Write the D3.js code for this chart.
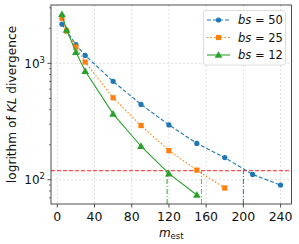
<!DOCTYPE html>
<html><head><meta charset="utf-8">
<script src="https://cdn.jsdelivr.net/npm/d3@7"></script>
<style>body{margin:0;background:#fff}svg{display:block;font-family:"DejaVu Sans",sans-serif}</style>
</head><body><svg id="c" width="299" height="244"></svg>
<script>
const xs50 = [5,10,20,30,60,90,120,150,180,210,240];
const ys50 = [2170,1900,1450,1170,700,444,296,205,155,111,90];
const xs25 = [5,10,20,30,60,90,120,150,180];
const ys25 = [2440,1900,1380,1026,506,292,178,121,85];
const xs12 = [5,10,20,30,60,90,120,150];
const ys12 = [2640,1940,1250,858,368,194,113,74];
const labels = ["50","25","12"];
const crossX = [200,155,118];
const threshold = 120;
const xTicks = [0,40,80,120,160,200,240];

const svg = d3.select("#c");
const L=51,R=291.5,T=5,B=204;
const x = d3.scaleLinear().domain([-6.75,251.75]).range([L,R]);
const y = d3.scaleLog().domain([61.9,3170]).range([B,T]);
const colors=["#1f77b4","#ff7f0e","#2ca02c"];
const dashes=["4,2","1.5,2",null];
const series=[{xs:xs50,ys:ys50},{xs:xs25,ys:ys25},{xs:xs12,ys:ys12}];

// grid
const g=svg.append("g");
xTicks.forEach(t=>g.append("line").attr("x1",x(t)).attr("x2",x(t)).attr("y1",T).attr("y2",B)
  .attr("stroke","#b0b0b0").attr("stroke-width",0.6).attr("stroke-dasharray","2,2").attr("opacity",0.7));
[100,1000].forEach(t=>g.append("line").attr("x1",L).attr("x2",R).attr("y1",y(t)).attr("y2",y(t))
  .attr("stroke","#b0b0b0").attr("stroke-width",0.6).attr("stroke-dasharray","2,2").attr("opacity",0.7));

// threshold
svg.append("line").attr("x1",L).attr("x2",R).attr("y1",y(threshold)).attr("y2",y(threshold))
  .attr("stroke","#ff0000").attr("stroke-opacity",0.7).attr("stroke-width",1.3).attr("stroke-dasharray","4,2");

// vertical crossing lines
crossX.forEach((cx,i)=>svg.append("line").attr("x1",x(cx)).attr("x2",x(cx)).attr("y1",B).attr("y2",y(threshold))
  .attr("stroke",colors[i]).attr("stroke-width",1).attr("stroke-dasharray","5,2,1,2"));

const line=d3.line().x(d=>x(d[0])).y(d=>y(d[1]));
function marker(sel,i,cx,cy){
  if(i===0) sel.append("circle").attr("cx",cx).attr("cy",cy).attr("r",2.6).attr("fill",colors[i]);
  else if(i===1) sel.append("rect").attr("x",cx-2.6).attr("y",cy-2.6).attr("width",5.2).attr("height",5.2).attr("fill",colors[i]);
  else sel.append("path").attr("d",d3.symbol(d3.symbolTriangle,26)()).attr("transform",`translate(${cx},${cy+0.6})`).attr("fill",colors[i]);
}
series.forEach((s,i)=>{
  const pts=s.xs.map((v,j)=>[v,s.ys[j]]);
  svg.append("path").datum(pts).attr("d",line).attr("fill","none").attr("stroke",colors[i])
    .attr("stroke-width",1.1).attr("stroke-dasharray",dashes[i]);
  pts.forEach(p=>marker(svg,i,x(p[0]),y(p[1])));
});

// axes frame
svg.append("rect").attr("x",L).attr("y",T).attr("width",R-L).attr("height",B-T).attr("fill","none").attr("stroke","#222").attr("stroke-width",0.8);

// x ticks
xTicks.forEach(t=>{
  svg.append("line").attr("x1",x(t)).attr("x2",x(t)).attr("y1",B).attr("y2",B+3.5).attr("stroke","#222").attr("stroke-width",0.8);
  svg.append("text").attr("x",x(t)).attr("y",B+16.5).attr("text-anchor","middle").attr("font-size",12.5).attr("fill","#111").text(t);
});
// y ticks major
[100,1000].forEach((t,k)=>{
  svg.append("line").attr("x1",L).attr("x2",L-3.5).attr("y1",y(t)).attr("y2",y(t)).attr("stroke","#222").attr("stroke-width",0.8);
  const tx=svg.append("text").attr("x",L-6).attr("y",y(t)+4.5).attr("text-anchor","end").attr("font-size",12).attr("fill","#111");
  tx.append("tspan").text("10");
  tx.append("tspan").attr("dy",-5).attr("font-size",8.5).text(k===0?"2":"3");
});
// minor
const minors=[];
[10,100,1000].forEach(d=>{for(let m=2;m<=9;m++){const v=m*d;if(v>=61.9&&v<=3170)minors.push(v);}});
minors.forEach(v=>svg.append("line").attr("x1",L).attr("x2",L-2).attr("y1",y(v)).attr("y2",y(v)).attr("stroke","#222").attr("stroke-width",0.6));

// axis labels
const yl=svg.append("text").attr("transform",`translate(16,${(T+B)/2}) rotate(-90)`).attr("text-anchor","middle").attr("font-size",12.2).attr("fill","#111");
yl.append("tspan").text("logrithm of ");
yl.append("tspan").attr("font-style","italic").text("KL");
yl.append("tspan").text(" divergence");
const xl=svg.append("text").attr("x",(L+R)/2).attr("y",236.5).attr("text-anchor","middle").attr("font-size",12).attr("fill","#111");
xl.append("tspan").attr("font-style","italic").text("m");
xl.append("tspan").attr("dy",2).attr("font-size",8.5).text("est");

// legend
const lg=svg.append("g");
lg.append("rect").attr("x",203.5).attr("y",10.5).attr("width",82).attr("height",54.5).attr("rx",2.5)
  .attr("fill","#fff").attr("fill-opacity",0.8).attr("stroke","#d5d5d5").attr("stroke-width",0.8);
labels.forEach((lab,i)=>{
  const ly=20+i*17.5;
  lg.append("line").attr("x1",207).attr("x2",230).attr("y1",ly).attr("y2",ly).attr("stroke",colors[i]).attr("stroke-width",1.1).attr("stroke-dasharray",dashes[i]);
  marker(lg,i,218.5,ly);
  const t=lg.append("text").attr("x",238).attr("y",ly+4).attr("font-size",11.5).attr("fill","#111");
  t.append("tspan").attr("font-style","italic").text("bs");
  t.append("tspan").text(" = "+lab);
});
</script></body></html>
